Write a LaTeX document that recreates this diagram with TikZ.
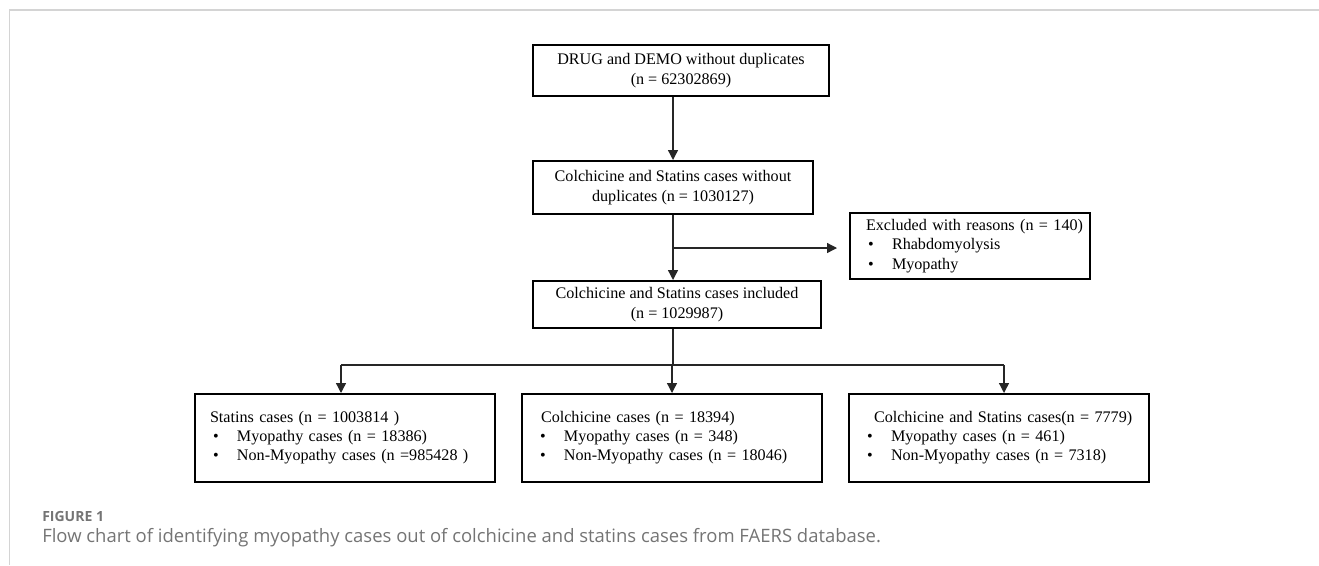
\documentclass[tikz,border=0pt]{standalone}
\usepackage{fontspec}
\setmainfont{Liberation Serif}
\newfontfamily\capfont{Open Sans}
\usetikzlibrary{arrows.meta,calc}
\definecolor{framegray}{HTML}{D4D4D4}
\definecolor{capgray}{HTML}{747474}
\newcommand{\bul}{\hspace*{10.5pt}\makebox[18pt][l]{\textbullet}}
\tikzset{
  box/.style={draw, line width=1.5pt, inner ysep=0pt, anchor=north west, font=\fontsize{12.1}{14.8}\selectfont},
  topbox/.style={box, align=center},
  listbox/.style={box, align=left, inner xsep=3pt, text width=219pt, minimum height=66pt, font=\fontsize{12.1}{14.3}\selectfont},
  flow/.style={line width=1pt, draw=black!85},
  flowarr/.style={flow, -{Triangle[length=7.5pt,width=7.5pt]}},
}
\begin{document}
\begin{tikzpicture}[x=0.75pt,y=0.75pt,yscale=-1]
\useasboundingbox (0,0) rectangle (1319,565);

%Frame
\draw [framegray, line width=1.5pt] (9,10) -- (1319,10) ;
\draw [framegray, line width=0.75pt] (9,10) -- (9,565) ;

%Shape: Rectangle
\node [topbox, minimum width=222pt, minimum height=38.25pt] (drug) at (532,44) {DRUG and DEMO without duplicates\\(n = 62302869)};
\node [topbox, minimum width=210pt, minimum height=39.75pt] (dup) at (532,160) {Colchicine and Statins cases without\\duplicates (n = 1030127)};
\node [topbox, minimum width=216pt, minimum height=35.25pt] (incl) at (532,280) {Colchicine and Statins cases included\\(n = 1029987)};
\node [box, align=left, inner xsep=3pt, text width=174pt, minimum height=49.5pt, font=\fontsize{12.1}{14.6}\selectfont] (excl) at (849,212) {\hspace*{9pt}Excluded with reasons (n = 140)\\
  \bul Rhabdomyolysis\\
  \bul Myopathy};

%Shape: Rectangle
\node [listbox] (statin) at (194,393) {\hspace*{8.25pt}Statins cases (n = 1003814 )\\
  \bul Myopathy cases (n = 18386)\\
  \bul Non-Myopathy cases (n =985428 )};
\node [listbox] (colch) at (521,393) {\hspace*{11.25pt}Colchicine cases (n = 18394)\\
  \bul Myopathy cases (n = 348)\\
  \bul Non-Myopathy cases (n = 18046)};
\node [listbox] (both) at (848,393) {\hspace*{15.75pt}Colchicine and Statins cases(n = 7779)\\
  \bul Myopathy cases (n = 461)\\
  \bul Non-Myopathy cases (n = 7318)};

%Straight Lines
\draw [flowarr] (drug.south -| dup.north) -- (dup.north) ;
\path (dup.south) ++(0,33) coordinate (split) ;
\draw [flowarr] (dup.south) -- (dup.south |- incl.north) ;
\draw [flowarr] (split) -- ([xshift=-9pt]split -| excl.west) ;

%Straight Lines
\path (incl.south -| dup.south) ++(0,36) coordinate (fork) ;
\coordinate (statin top) at ([xshift=-3pt]statin.north) ;
\coordinate (both top) at ([xshift=3.75pt]both.north) ;
\draw [flow] (incl.south -| dup.south) -- (fork) ;
\draw [flow] (fork -| statin top) -- (fork -| both top) ;
\draw [flowarr] (fork -| statin top) -- (statin top) ;
\draw [flowarr] (fork -| colch.north) -- (colch.north) ;
\draw [flowarr] (fork -| both top) -- (both top) ;

% Text Node
\node [anchor=base west, inner sep=0pt, text=capgray, font=\capfont\bfseries\fontsize{10.5}{12}\selectfont] (fig) at (42,521) {FIGURE 1};
\node [anchor=base west, inner sep=0pt, text=capgray, font=\capfont\fontsize{13.85}{16}\selectfont] (cap) at (42,542) {Flow chart of identifying myopathy cases out of colchicine and statins cases from FAERS database.};
\end{tikzpicture}
\end{document}
